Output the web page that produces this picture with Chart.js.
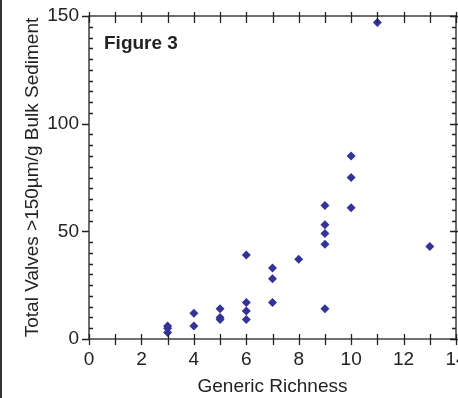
<!DOCTYPE html>
<html>
<head>
<meta charset="utf-8">
<script src="https://cdn.jsdelivr.net/npm/chart.js@4.4.1/dist/chart.umd.min.js"></script>
<style>
  body { margin: 0; background: #fff; }
  #wrap { width: 458px; height: 398px; }
</style>
</head>
<body>
<div id="wrap"><canvas id="myChart" width="458" height="398"></canvas></div>
<script>
// Generic richness (x) and total valves per gram (y)
const richness = [3, 3, 3, 4, 4, 5, 5, 5, 6, 6, 6, 6, 7, 7, 7, 8, 9, 9, 9, 9, 9, 10, 10, 10, 11, 13];
const valves   = [6, 5, 3, 12, 6, 14, 10, 9, 39, 17, 13, 9, 33, 28, 17, 37, 62, 53, 49, 44, 14, 85, 75, 61, 147, 43];

// axis settings
const xMin = 0, xMax = 14, xStep = 1, xLabelEvery = 2;
const yMin = 0, yMax = 150, yStep = 5, yLabelEvery = 50;

const xTitle = "Generic Richness";
const yTitle = "Total Valves >150\u00b5m/g Bulk Sediment";
const figLabel = "Figure 3";

// build the points list from the two arrays
let points = [];
for (let i = 0; i < richness.length; i++) {
    points.push({ x: richness[i], y: valves[i] });
}

const ink = '#222';
const fontFam = '"Liberation Sans", Arial, sans-serif';

// draws the box round the plot, tick marks on all four sides and the label
const frameTicks = {
    id: 'frameTicks',
    afterDraw(chart) {
        const ctx = chart.ctx;
        const a = chart.chartArea;
        const x = chart.scales.x;
        const y = chart.scales.y;
        ctx.save();
        ctx.strokeStyle = ink;
        ctx.lineWidth = 1.3;
        ctx.strokeRect(a.left, a.top, a.right - a.left, a.bottom - a.top);

        ctx.beginPath();
        x.ticks.forEach(function (t) {
            const px = Math.round(x.getPixelForValue(t.value)) + 0.5;
            ctx.moveTo(px, a.bottom - 5);
            ctx.lineTo(px, a.bottom + 6);
            ctx.moveTo(px, a.top - 4);
            ctx.lineTo(px, a.top + 7);
        });
        y.ticks.forEach(function (t) {
            const py = Math.round(y.getPixelForValue(t.value)) + 0.5;
            if (t.value % yLabelEvery === 0) {
                ctx.moveTo(a.left - 7, py);
                ctx.lineTo(a.left, py);
                ctx.moveTo(a.right - 6, py);
                ctx.lineTo(a.right + 4, py);
            } else {
                ctx.moveTo(a.left, py);
                ctx.lineTo(a.left + 4, py);
                ctx.moveTo(a.right - 4, py);
                ctx.lineTo(a.right, py);
            }
        });
        ctx.stroke();

        // left edge line of the page
        ctx.fillStyle = '#333';
        ctx.fillRect(0, 0, 2, chart.height);

        // figure label
        ctx.fillStyle = ink;
        ctx.font = 'bold 19px ' + fontFam;
        ctx.textBaseline = 'alphabetic';
        ctx.fillText(figLabel, a.left + 15, a.top + 33);
        ctx.restore();
    }
};

let ctx = document.getElementById('myChart').getContext('2d');
let chart = new Chart(ctx, {
    type: 'scatter',
    data: {
        datasets: [{
            data: points,
            pointStyle: 'rectRot',
            pointRadius: 4.5,
            pointBorderWidth: 0,
            backgroundColor: '#333399',
            borderColor: '#333399'
        }]
    },
    options: {
        responsive: false,
        animation: false,
        devicePixelRatio: 1,
        layout: {
            autoPadding: false,
            padding: { top: 16, right: 2, left: 0, bottom: 0 }
        },
        plugins: {
            legend: { display: false },
            tooltip: { enabled: false }
        },
        scales: {
            x: {
                type: 'linear',
                min: xMin,
                max: xMax,
                grid: { display: false, drawTicks: false },
                border: { display: false },
                ticks: {
                    stepSize: xStep,
                    autoSkip: false,
                    maxRotation: 0,
                    padding: 9,
                    color: ink,
                    font: { family: fontFam, size: 19 },
                    callback: function (v) { return v % xLabelEvery === 0 ? v : ''; }
                },
                title: {
                    display: true,
                    text: xTitle,
                    color: ink,
                    padding: { top: 0, bottom: 0 },
                    font: { family: fontFam, size: 19 }
                },
                afterFit: function (scale) {
                    scale.height = 59;
                    scale.paddingLeft = 0;
                    scale.paddingRight = 0;
                }
            },
            y: {
                min: yMin,
                max: yMax,
                grid: { display: false, drawTicks: false },
                border: { display: false },
                ticks: {
                    stepSize: yStep,
                    autoSkip: false,
                    padding: 10,
                    color: ink,
                    font: { family: fontFam, size: 19 },
                    callback: function (v) { return v % yLabelEvery === 0 ? v : ''; }
                },
                title: {
                    display: true,
                    text: yTitle,
                    color: ink,
                    padding: { top: 21, bottom: 0 },
                    font: { family: fontFam, size: 19 }
                },
                afterFit: function (scale) {
                    scale.width = 89;
                    scale.paddingTop = 0;
                    scale.paddingBottom = 0;
                }
            }
        }
    },
    plugins: [frameTicks]
});
</script>
</body>
</html>
